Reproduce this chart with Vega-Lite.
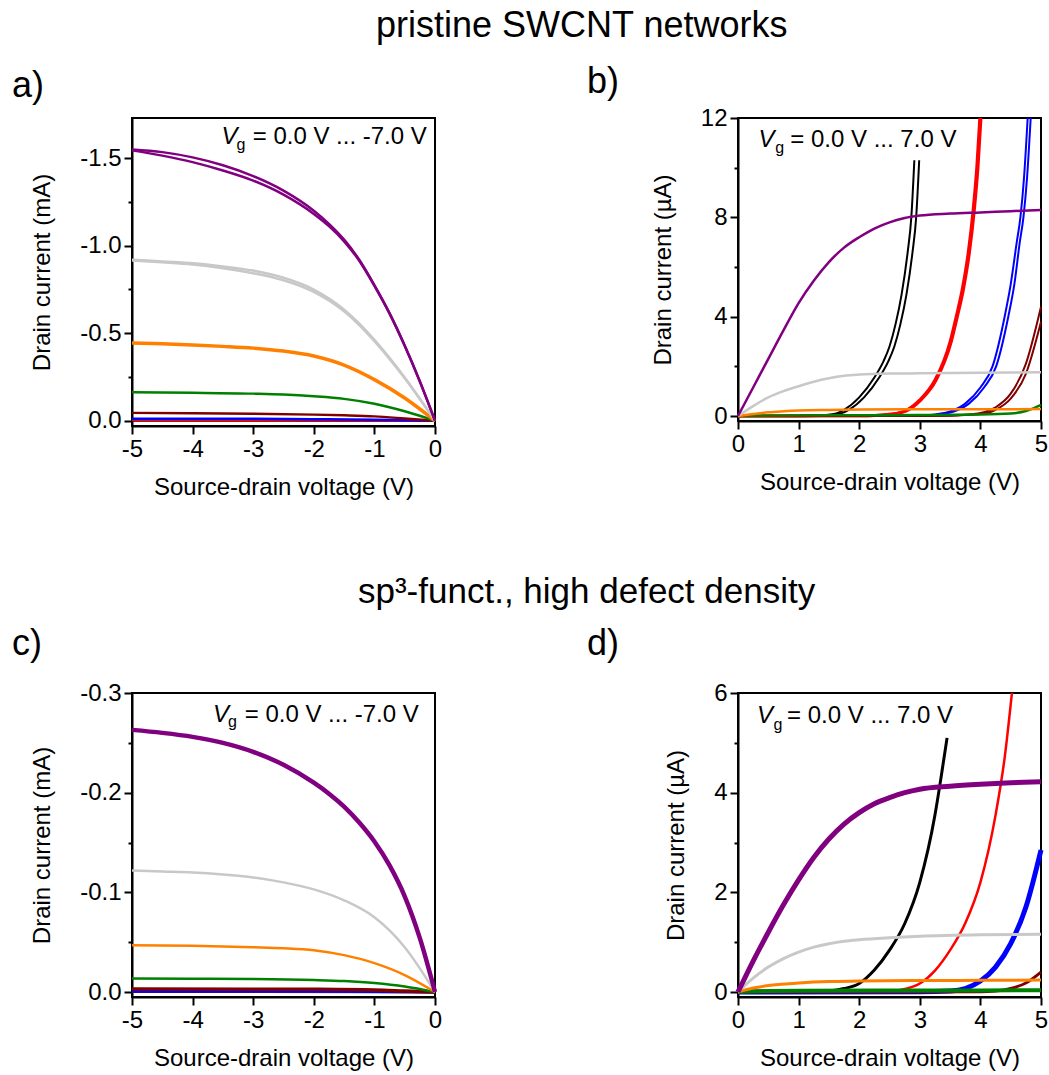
{
  "$schema": "https://vega.github.io/schema/vega-lite/v6.json",
  "padding": {"left": 11, "top": 8, "right": 0, "bottom": 0},
  "background": "white",
  "config": {
    "font": "Liberation Sans",
    "view": {"stroke": "black", "strokeWidth": 2},
    "axis": {"grid": false, "domainColor": "black", "domainWidth": 2, "tickColor": "black", "tickWidth": 2, "labelFontSize": 24, "titleFontSize": 24, "titleFontWeight": "normal", "labelColor": "black", "titleColor": "black", "labelFont": "Liberation Sans", "titleFont": "Liberation Sans", "labelPadding": 3, "labelOverlap": false, "labelFlush": false, "labelBound": false},
    "axisX": {"titlePadding": 14},
    "axisY": {"titlePadding": 25},
    "title": {"font": "Liberation Sans", "fontWeight": "normal", "color": "black"},
    "text": {"font": "Liberation Sans", "fontSize": 24, "color": "black"}
  },
  "resolve": {"scale": {"strokeWidth": "independent", "color": "independent"}},
  "datasets": {
    "a": [
      {"x": -5, "y": -0.001, "g": "0"}, {"x": -2.5, "y": -0.001, "g": "0"}, {"x": 0, "y": 0, "g": "0"},
      {"x": -5, "y": -0.004, "g": "1"}, {"x": -3, "y": -0.0035, "g": "1"}, {"x": -1, "y": -0.002, "g": "1"}, {"x": 0, "y": 0, "g": "1"},
      {"x": -5, "y": -0.012, "g": "2"}, {"x": -4, "y": -0.0115, "g": "2"}, {"x": -3, "y": -0.011, "g": "2"}, {"x": -2, "y": -0.009, "g": "2"}, {"x": -1, "y": -0.006, "g": "2"}, {"x": -0.5, "y": -0.003, "g": "2"}, {"x": 0, "y": 0, "g": "2"},
      {"x": -5, "y": -0.045, "g": "3"}, {"x": -4, "y": -0.043, "g": "3"}, {"x": -3, "y": -0.04, "g": "3"}, {"x": -2, "y": -0.035, "g": "3"}, {"x": -1.5, "y": -0.031, "g": "3"}, {"x": -1, "y": -0.025, "g": "3"}, {"x": -0.5, "y": -0.013, "g": "3"}, {"x": 0, "y": 0, "g": "3"},
      {"x": -5, "y": -0.163, "g": "4"}, {"x": -4, "y": -0.16, "g": "4"}, {"x": -3, "y": -0.155, "g": "4"}, {"x": -2.5, "y": -0.15, "g": "4"}, {"x": -2, "y": -0.14, "g": "4"}, {"x": -1.5, "y": -0.125, "g": "4"}, {"x": -1, "y": -0.097, "g": "4"}, {"x": -0.5, "y": -0.054, "g": "4"}, {"x": 0, "y": 0, "g": "4"},
      {"x": -5, "y": -0.445, "g": "5"}, {"x": -4.5, "y": -0.44, "g": "5"}, {"x": -4, "y": -0.433, "g": "5"}, {"x": -3.5, "y": -0.425, "g": "5"}, {"x": -3, "y": -0.415, "g": "5"}, {"x": -2.5, "y": -0.398, "g": "5"}, {"x": -2, "y": -0.37, "g": "5"}, {"x": -1.5, "y": -0.318, "g": "5"}, {"x": -1, "y": -0.235, "g": "5"}, {"x": -0.5, "y": -0.13, "g": "5"}, {"x": 0, "y": 0, "g": "5"},
      {"x": -5, "y": -0.92, "g": "6", "s": "f"}, {"x": -4.5, "y": -0.91, "g": "6", "s": "f"}, {"x": -4, "y": -0.9, "g": "6", "s": "f"}, {"x": -3.5, "y": -0.882, "g": "6", "s": "f"}, {"x": -3, "y": -0.858, "g": "6", "s": "f"}, {"x": -2.5, "y": -0.818, "g": "6", "s": "f"}, {"x": -2.25, "y": -0.788, "g": "6", "s": "f"}, {"x": -2, "y": -0.75, "g": "6", "s": "f"}, {"x": -1.75, "y": -0.698, "g": "6", "s": "f"}, {"x": -1.5, "y": -0.635, "g": "6", "s": "f"}, {"x": -1.25, "y": -0.555, "g": "6", "s": "f"}, {"x": -1, "y": -0.462, "g": "6", "s": "f"}, {"x": -0.5, "y": -0.247, "g": "6", "s": "f"}, {"x": 0, "y": 0, "g": "6", "s": "f"},
      {"x": -5, "y": -0.915, "g": "6", "s": "r"}, {"x": -4.5, "y": -0.905, "g": "6", "s": "r"}, {"x": -4, "y": -0.893, "g": "6", "s": "r"}, {"x": -3.5, "y": -0.872, "g": "6", "s": "r"}, {"x": -3, "y": -0.843, "g": "6", "s": "r"}, {"x": -2.5, "y": -0.803, "g": "6", "s": "r"}, {"x": -2.25, "y": -0.774, "g": "6", "s": "r"}, {"x": -2, "y": -0.737, "g": "6", "s": "r"}, {"x": -1.75, "y": -0.687, "g": "6", "s": "r"}, {"x": -1.5, "y": -0.625, "g": "6", "s": "r"}, {"x": -1.25, "y": -0.547, "g": "6", "s": "r"}, {"x": -1, "y": -0.455, "g": "6", "s": "r"}, {"x": -0.5, "y": -0.243, "g": "6", "s": "r"}, {"x": 0, "y": 0, "g": "6", "s": "r"},
      {"x": -5, "y": -1.55, "g": "7", "s": "f"}, {"x": -4.5, "y": -1.535, "g": "7", "s": "f"}, {"x": -4, "y": -1.505, "g": "7", "s": "f"}, {"x": -3.5, "y": -1.46, "g": "7", "s": "f"}, {"x": -3, "y": -1.398, "g": "7", "s": "f"}, {"x": -2.5, "y": -1.315, "g": "7", "s": "f"}, {"x": -2, "y": -1.2, "g": "7", "s": "f"}, {"x": -1.75, "y": -1.125, "g": "7", "s": "f"}, {"x": -1.5, "y": -1.035, "g": "7", "s": "f"}, {"x": -1.25, "y": -0.92, "g": "7", "s": "f"}, {"x": -1, "y": -0.775, "g": "7", "s": "f"}, {"x": -0.75, "y": -0.615, "g": "7", "s": "f"}, {"x": -0.5, "y": -0.43, "g": "7", "s": "f"}, {"x": -0.25, "y": -0.225, "g": "7", "s": "f"}, {"x": 0, "y": 0, "g": "7", "s": "f"},
      {"x": -5, "y": -1.545, "g": "7", "s": "r"}, {"x": -4.5, "y": -1.515, "g": "7", "s": "r"}, {"x": -4, "y": -1.478, "g": "7", "s": "r"}, {"x": -3.5, "y": -1.43, "g": "7", "s": "r"}, {"x": -3, "y": -1.372, "g": "7", "s": "r"}, {"x": -2.5, "y": -1.292, "g": "7", "s": "r"}, {"x": -2, "y": -1.182, "g": "7", "s": "r"}, {"x": -1.75, "y": -1.112, "g": "7", "s": "r"}, {"x": -1.5, "y": -1.025, "g": "7", "s": "r"}, {"x": -1.25, "y": -0.914, "g": "7", "s": "r"}, {"x": -1, "y": -0.771, "g": "7", "s": "r"}, {"x": -0.75, "y": -0.612, "g": "7", "s": "r"}, {"x": -0.5, "y": -0.428, "g": "7", "s": "r"}, {"x": -0.25, "y": -0.224, "g": "7", "s": "r"}, {"x": 0, "y": 0, "g": "7", "s": "r"}
    ],
    "b": [
      {"x": 0, "y": 0, "g": "0", "s": "f"}, {"x": 1, "y": 0.01, "g": "0", "s": "f"}, {"x": 1.5, "y": 0.05, "g": "0", "s": "f"}, {"x": 1.75, "y": 0.25, "g": "0", "s": "f"}, {"x": 2, "y": 0.75, "g": "0", "s": "f"}, {"x": 2.25, "y": 1.55, "g": "0", "s": "f"}, {"x": 2.4, "y": 2.2, "g": "0", "s": "f"}, {"x": 2.5, "y": 2.8, "g": "0", "s": "f"}, {"x": 2.6, "y": 3.7, "g": "0", "s": "f"}, {"x": 2.7, "y": 4.9, "g": "0", "s": "f"}, {"x": 2.8, "y": 6.6, "g": "0", "s": "f"}, {"x": 2.86, "y": 8.0, "g": "0", "s": "f"}, {"x": 2.91, "y": 10.3, "g": "0", "s": "f"},
      {"x": 0, "y": 0, "g": "0", "s": "r"}, {"x": 1, "y": 0.01, "g": "0", "s": "r"}, {"x": 1.58, "y": 0.05, "g": "0", "s": "r"}, {"x": 1.83, "y": 0.25, "g": "0", "s": "r"}, {"x": 2.08, "y": 0.75, "g": "0", "s": "r"}, {"x": 2.33, "y": 1.55, "g": "0", "s": "r"}, {"x": 2.48, "y": 2.2, "g": "0", "s": "r"}, {"x": 2.58, "y": 2.8, "g": "0", "s": "r"}, {"x": 2.68, "y": 3.7, "g": "0", "s": "r"}, {"x": 2.78, "y": 4.9, "g": "0", "s": "r"}, {"x": 2.88, "y": 6.6, "g": "0", "s": "r"}, {"x": 2.94, "y": 8.0, "g": "0", "s": "r"}, {"x": 2.99, "y": 10.3, "g": "0", "s": "r"},
      {"x": 0, "y": 0, "g": "1", "s": "f"}, {"x": 1, "y": 0.005, "g": "1", "s": "f"}, {"x": 2, "y": 0.01, "g": "1", "s": "f"}, {"x": 2.25, "y": 0.02, "g": "1", "s": "f"}, {"x": 2.5, "y": 0.07, "g": "1", "s": "f"}, {"x": 2.75, "y": 0.2, "g": "1", "s": "f"}, {"x": 3, "y": 0.65, "g": "1", "s": "f"}, {"x": 3.25, "y": 1.45, "g": "1", "s": "f"}, {"x": 3.5, "y": 3.0, "g": "1", "s": "f"}, {"x": 3.6, "y": 4.0, "g": "1", "s": "f"}, {"x": 3.7, "y": 5.1, "g": "1", "s": "f"}, {"x": 3.8, "y": 6.6, "g": "1", "s": "f"}, {"x": 3.88, "y": 8.3, "g": "1", "s": "f"}, {"x": 3.94, "y": 10, "g": "1", "s": "f"}, {"x": 3.99, "y": 12, "g": "1", "s": "f"},
      {"x": 0, "y": 0, "g": "1", "s": "r"}, {"x": 1, "y": 0.005, "g": "1", "s": "r"}, {"x": 2, "y": 0.01, "g": "1", "s": "r"}, {"x": 2.27, "y": 0.02, "g": "1", "s": "r"}, {"x": 2.52, "y": 0.07, "g": "1", "s": "r"}, {"x": 2.77, "y": 0.2, "g": "1", "s": "r"}, {"x": 3.02, "y": 0.65, "g": "1", "s": "r"}, {"x": 3.27, "y": 1.45, "g": "1", "s": "r"}, {"x": 3.52, "y": 3.0, "g": "1", "s": "r"}, {"x": 3.62, "y": 4.0, "g": "1", "s": "r"}, {"x": 3.72, "y": 5.1, "g": "1", "s": "r"}, {"x": 3.82, "y": 6.6, "g": "1", "s": "r"}, {"x": 3.9, "y": 8.3, "g": "1", "s": "r"}, {"x": 3.96, "y": 10, "g": "1", "s": "r"}, {"x": 4.01, "y": 12, "g": "1", "s": "r"},
      {"x": 0, "y": 0, "g": "2", "s": "f"}, {"x": 2, "y": 0.005, "g": "2", "s": "f"}, {"x": 3, "y": 0.02, "g": "2", "s": "f"}, {"x": 3.25, "y": 0.06, "g": "2", "s": "f"}, {"x": 3.5, "y": 0.18, "g": "2", "s": "f"}, {"x": 3.75, "y": 0.5, "g": "2", "s": "f"}, {"x": 4, "y": 1.15, "g": "2", "s": "f"}, {"x": 4.2, "y": 2.0, "g": "2", "s": "f"}, {"x": 4.4, "y": 4.0, "g": "2", "s": "f"}, {"x": 4.5, "y": 5.3, "g": "2", "s": "f"}, {"x": 4.6, "y": 7.0, "g": "2", "s": "f"}, {"x": 4.66, "y": 8.0, "g": "2", "s": "f"}, {"x": 4.72, "y": 9.6, "g": "2", "s": "f"}, {"x": 4.78, "y": 12, "g": "2", "s": "f"},
      {"x": 0, "y": 0, "g": "2", "s": "r"}, {"x": 2, "y": 0.005, "g": "2", "s": "r"}, {"x": 3.06, "y": 0.02, "g": "2", "s": "r"}, {"x": 3.31, "y": 0.06, "g": "2", "s": "r"}, {"x": 3.56, "y": 0.18, "g": "2", "s": "r"}, {"x": 3.81, "y": 0.5, "g": "2", "s": "r"}, {"x": 4.06, "y": 1.15, "g": "2", "s": "r"}, {"x": 4.26, "y": 2.0, "g": "2", "s": "r"}, {"x": 4.46, "y": 4.0, "g": "2", "s": "r"}, {"x": 4.56, "y": 5.3, "g": "2", "s": "r"}, {"x": 4.65, "y": 7.0, "g": "2", "s": "r"}, {"x": 4.71, "y": 8.0, "g": "2", "s": "r"}, {"x": 4.77, "y": 9.6, "g": "2", "s": "r"}, {"x": 4.83, "y": 12, "g": "2", "s": "r"},
      {"x": 0, "y": 0, "g": "3", "s": "f"}, {"x": 3, "y": 0.005, "g": "3", "s": "f"}, {"x": 3.5, "y": 0.02, "g": "3", "s": "f"}, {"x": 3.75, "y": 0.05, "g": "3", "s": "f"}, {"x": 4, "y": 0.12, "g": "3", "s": "f"}, {"x": 4.25, "y": 0.35, "g": "3", "s": "f"}, {"x": 4.5, "y": 0.9, "g": "3", "s": "f"}, {"x": 4.75, "y": 2.1, "g": "3", "s": "f"}, {"x": 5, "y": 4.4, "g": "3", "s": "f"},
      {"x": 0, "y": 0, "g": "3", "s": "r"}, {"x": 3, "y": 0.005, "g": "3", "s": "r"}, {"x": 3.5, "y": 0.015, "g": "3", "s": "r"}, {"x": 3.75, "y": 0.04, "g": "3", "s": "r"}, {"x": 4, "y": 0.08, "g": "3", "s": "r"}, {"x": 4.25, "y": 0.25, "g": "3", "s": "r"}, {"x": 4.5, "y": 0.7, "g": "3", "s": "r"}, {"x": 4.75, "y": 1.7, "g": "3", "s": "r"}, {"x": 5, "y": 3.8, "g": "3", "s": "r"},
      {"x": 0, "y": 0, "g": "4"}, {"x": 1, "y": 0.02, "g": "4"}, {"x": 2, "y": 0.03, "g": "4"}, {"x": 3, "y": 0.04, "g": "4"}, {"x": 4, "y": 0.06, "g": "4"}, {"x": 4.5, "y": 0.1, "g": "4"}, {"x": 4.75, "y": 0.2, "g": "4"}, {"x": 5, "y": 0.45, "g": "4"},
      {"x": 0, "y": 0, "g": "5"}, {"x": 0.25, "y": 0.08, "g": "5"}, {"x": 0.5, "y": 0.15, "g": "5"}, {"x": 0.75, "y": 0.19, "g": "5"}, {"x": 1, "y": 0.22, "g": "5"}, {"x": 1.5, "y": 0.245, "g": "5"}, {"x": 2, "y": 0.26, "g": "5"}, {"x": 3, "y": 0.27, "g": "5"}, {"x": 4, "y": 0.275, "g": "5"}, {"x": 5, "y": 0.28, "g": "5"},
      {"x": 0, "y": 0, "g": "6"}, {"x": 0.25, "y": 0.4, "g": "6"}, {"x": 0.5, "y": 0.75, "g": "6"}, {"x": 0.75, "y": 1.0, "g": "6"}, {"x": 1, "y": 1.2, "g": "6"}, {"x": 1.25, "y": 1.38, "g": "6"}, {"x": 1.5, "y": 1.52, "g": "6"}, {"x": 1.75, "y": 1.62, "g": "6"}, {"x": 2, "y": 1.67, "g": "6"}, {"x": 2.5, "y": 1.71, "g": "6"}, {"x": 3, "y": 1.72, "g": "6"}, {"x": 4, "y": 1.74, "g": "6"}, {"x": 5, "y": 1.76, "g": "6"},
      {"x": 0, "y": 0, "g": "7"}, {"x": 0.25, "y": 1.15, "g": "7"}, {"x": 0.5, "y": 2.3, "g": "7"}, {"x": 0.75, "y": 3.45, "g": "7"}, {"x": 1, "y": 4.55, "g": "7"}, {"x": 1.25, "y": 5.45, "g": "7"}, {"x": 1.5, "y": 6.2, "g": "7"}, {"x": 1.75, "y": 6.78, "g": "7"}, {"x": 2, "y": 7.2, "g": "7"}, {"x": 2.25, "y": 7.55, "g": "7"}, {"x": 2.5, "y": 7.8, "g": "7"}, {"x": 2.75, "y": 7.97, "g": "7"}, {"x": 3, "y": 8.07, "g": "7"}, {"x": 3.5, "y": 8.15, "g": "7"}, {"x": 4, "y": 8.2, "g": "7"}, {"x": 4.5, "y": 8.25, "g": "7"}, {"x": 5, "y": 8.3, "g": "7"}
    ],
    "c": [
      {"x": -5, "y": -0.0003, "g": "0"}, {"x": 0, "y": 0, "g": "0"},
      {"x": -5, "y": -0.0008, "g": "1"}, {"x": 0, "y": 0, "g": "1"},
      {"x": -5, "y": -0.0008, "g": "2"}, {"x": -2, "y": -0.0007, "g": "2"}, {"x": -1, "y": -0.0005, "g": "2"}, {"x": 0, "y": 0, "g": "2"},
      {"x": -5, "y": -0.003, "g": "3"}, {"x": -3, "y": -0.0029, "g": "3"}, {"x": -2, "y": -0.0027, "g": "3"}, {"x": -1, "y": -0.002, "g": "3"}, {"x": -0.5, "y": -0.001, "g": "3"}, {"x": 0, "y": 0, "g": "3"},
      {"x": -5, "y": -0.0135, "g": "4"}, {"x": -4, "y": -0.0133, "g": "4"}, {"x": -3, "y": -0.013, "g": "4"}, {"x": -2, "y": -0.012, "g": "4"}, {"x": -1.5, "y": -0.011, "g": "4"}, {"x": -1, "y": -0.009, "g": "4"}, {"x": -0.5, "y": -0.0055, "g": "4"}, {"x": 0, "y": 0, "g": "4"},
      {"x": -5, "y": -0.047, "g": "5"}, {"x": -4, "y": -0.0465, "g": "5"}, {"x": -3, "y": -0.045, "g": "5"}, {"x": -2.5, "y": -0.044, "g": "5"}, {"x": -2, "y": -0.042, "g": "5"}, {"x": -1.5, "y": -0.037, "g": "5"}, {"x": -1, "y": -0.029, "g": "5"}, {"x": -0.5, "y": -0.017, "g": "5"}, {"x": 0, "y": 0, "g": "5"},
      {"x": -5, "y": -0.122, "g": "6"}, {"x": -4.5, "y": -0.121, "g": "6"}, {"x": -4, "y": -0.12, "g": "6"}, {"x": -3.5, "y": -0.118, "g": "6"}, {"x": -3, "y": -0.115, "g": "6"}, {"x": -2.5, "y": -0.11, "g": "6"}, {"x": -2, "y": -0.103, "g": "6"}, {"x": -1.5, "y": -0.092, "g": "6"}, {"x": -1, "y": -0.075, "g": "6"}, {"x": -0.5, "y": -0.045, "g": "6"}, {"x": 0, "y": 0, "g": "6"},
      {"x": -5, "y": -0.263, "g": "7"}, {"x": -4.5, "y": -0.26, "g": "7"}, {"x": -4, "y": -0.256, "g": "7"}, {"x": -3.5, "y": -0.25, "g": "7"}, {"x": -3, "y": -0.241, "g": "7"}, {"x": -2.5, "y": -0.228, "g": "7"}, {"x": -2, "y": -0.21, "g": "7"}, {"x": -1.75, "y": -0.199, "g": "7"}, {"x": -1.5, "y": -0.186, "g": "7"}, {"x": -1.25, "y": -0.17, "g": "7"}, {"x": -1, "y": -0.151, "g": "7"}, {"x": -0.75, "y": -0.127, "g": "7"}, {"x": -0.5, "y": -0.096, "g": "7"}, {"x": -0.25, "y": -0.054, "g": "7"}, {"x": 0, "y": 0, "g": "7"}
    ],
    "d": [
      {"x": 0, "y": 0, "g": "0"}, {"x": 1, "y": 0.003, "g": "0"}, {"x": 1.25, "y": 0.005, "g": "0"}, {"x": 1.5, "y": 0.02, "g": "0"}, {"x": 1.75, "y": 0.07, "g": "0"}, {"x": 2, "y": 0.17, "g": "0"}, {"x": 2.25, "y": 0.44, "g": "0"}, {"x": 2.5, "y": 0.84, "g": "0"}, {"x": 2.75, "y": 1.37, "g": "0"}, {"x": 3, "y": 2.2, "g": "0"}, {"x": 3.25, "y": 3.55, "g": "0"}, {"x": 3.35, "y": 4.3, "g": "0"}, {"x": 3.45, "y": 5.1, "g": "0"},
      {"x": 0, "y": 0, "g": "1"}, {"x": 2, "y": 0.003, "g": "1"}, {"x": 2.5, "y": 0.01, "g": "1"}, {"x": 2.75, "y": 0.06, "g": "1"}, {"x": 3, "y": 0.17, "g": "1"}, {"x": 3.25, "y": 0.43, "g": "1"}, {"x": 3.5, "y": 0.84, "g": "1"}, {"x": 3.75, "y": 1.38, "g": "1"}, {"x": 4, "y": 2.2, "g": "1"}, {"x": 4.25, "y": 3.55, "g": "1"}, {"x": 4.4, "y": 4.7, "g": "1"}, {"x": 4.52, "y": 6.0, "g": "1"},
      {"x": 0, "y": 0, "g": "2"}, {"x": 3, "y": 0.005, "g": "2"}, {"x": 3.5, "y": 0.02, "g": "2"}, {"x": 3.75, "y": 0.07, "g": "2"}, {"x": 4, "y": 0.22, "g": "2"}, {"x": 4.25, "y": 0.5, "g": "2"}, {"x": 4.5, "y": 0.97, "g": "2"}, {"x": 4.75, "y": 1.7, "g": "2"}, {"x": 5, "y": 2.85, "g": "2"},
      {"x": 0, "y": 0, "g": "3"}, {"x": 4, "y": 0.005, "g": "3"}, {"x": 4.25, "y": 0.02, "g": "3"}, {"x": 4.5, "y": 0.07, "g": "3"}, {"x": 4.75, "y": 0.18, "g": "3"}, {"x": 5, "y": 0.4, "g": "3"},
      {"x": 0, "y": 0, "g": "4"}, {"x": 0.5, "y": 0.02, "g": "4"}, {"x": 1, "y": 0.025, "g": "4"}, {"x": 3, "y": 0.03, "g": "4"}, {"x": 5, "y": 0.035, "g": "4"},
      {"x": 0, "y": 0, "g": "5"}, {"x": 0.25, "y": 0.08, "g": "5"}, {"x": 0.5, "y": 0.13, "g": "5"}, {"x": 1, "y": 0.18, "g": "5"}, {"x": 1.5, "y": 0.21, "g": "5"}, {"x": 2, "y": 0.22, "g": "5"}, {"x": 3, "y": 0.23, "g": "5"}, {"x": 4, "y": 0.235, "g": "5"}, {"x": 5, "y": 0.24, "g": "5"},
      {"x": 0, "y": 0, "g": "6"}, {"x": 0.25, "y": 0.28, "g": "6"}, {"x": 0.5, "y": 0.5, "g": "6"}, {"x": 0.75, "y": 0.67, "g": "6"}, {"x": 1, "y": 0.8, "g": "6"}, {"x": 1.25, "y": 0.9, "g": "6"}, {"x": 1.5, "y": 0.97, "g": "6"}, {"x": 1.75, "y": 1.02, "g": "6"}, {"x": 2, "y": 1.05, "g": "6"}, {"x": 2.5, "y": 1.09, "g": "6"}, {"x": 3, "y": 1.12, "g": "6"}, {"x": 4, "y": 1.15, "g": "6"}, {"x": 5, "y": 1.16, "g": "6"},
      {"x": 0, "y": 0, "g": "7"}, {"x": 0.25, "y": 0.62, "g": "7"}, {"x": 0.5, "y": 1.2, "g": "7"}, {"x": 0.75, "y": 1.75, "g": "7"}, {"x": 1, "y": 2.25, "g": "7"}, {"x": 1.25, "y": 2.7, "g": "7"}, {"x": 1.5, "y": 3.07, "g": "7"}, {"x": 1.75, "y": 3.37, "g": "7"}, {"x": 2, "y": 3.6, "g": "7"}, {"x": 2.25, "y": 3.78, "g": "7"}, {"x": 2.5, "y": 3.9, "g": "7"}, {"x": 2.75, "y": 4.0, "g": "7"}, {"x": 3, "y": 4.07, "g": "7"}, {"x": 3.5, "y": 4.13, "g": "7"}, {"x": 4, "y": 4.17, "g": "7"}, {"x": 4.5, "y": 4.2, "g": "7"}, {"x": 5, "y": 4.22, "g": "7"}
    ]
  },
  "vconcat": [
    {
      "title": {"text": "pristine SWCNT networks", "fontSize": 36, "anchor": "start", "frame": "group", "dx": 244, "offset": 18},
      "bounds": "flush",
      "spacing": 303,
      "resolve": {"scale": {"strokeWidth": "independent", "color": "independent"}},
      "hconcat": [
        {
          "width": 303, "height": 308,
          "title": {"text": "a)", "anchor": "start", "frame": "group", "dx": -120, "offset": -15, "fontSize": 36, "baseline": "alphabetic"},
          "layer": [
            {
              "data": {"name": "a"},
              "mark": {"type": "line", "interpolate": "monotone"},
              "encoding": {
                "x": {"field": "x", "type": "quantitative", "scale": {"domain": [-5, 0], "nice": false, "zero": false},
                  "axis": {"title": "Source-drain voltage (V)", "values": [-5, -4.5, -4, -3.5, -3, -2.5, -2, -1.5, -1, -0.5, 0], "labelExpr": "datum.value % 1 != 0 ? '' : replace(format(datum.value, 'd'), '\u2212', '-')", "tickSize": {"condition": {"test": "datum.value % 1 != 0", "value": 4}, "value": 8}}},
                "y": {"field": "y", "type": "quantitative", "scale": {"domain": [0.03, -1.73], "nice": false, "zero": false},
                  "axis": {"title": "Drain current (mA)", "values": [0, -0.25, -0.5, -0.75, -1, -1.25, -1.5], "labelExpr": "abs(datum.value*4) % 2 == 1 ? '' : replace(format(datum.value, '.1f'), '\u2212', '-')", "tickSize": {"condition": {"test": "abs(datum.value*4) % 2 == 1", "value": 4}, "value": 8}}},
                "color": {"field": "g", "type": "nominal", "legend": null, "scale": {"domain": ["0", "1", "2", "3", "4", "5", "6", "7"], "range": ["#000000", "#ff0000", "#0000ff", "#800000", "#008000", "#ff8000", "#c8c8c8", "#800080"]}},
                "strokeWidth": {"field": "g", "type": "nominal", "legend": null, "scale": {"type": "ordinal", "domain": ["0", "1", "2", "3", "4", "5", "6", "7"], "range": [2.5, 2.5, 2.5, 2.5, 2.5, 3.5, 2.5, 2.5]}},
                "detail": {"field": "s"}
              }
            },
            {"data": {"values": [{}]}, "mark": {"type": "text", "text": "V", "fontStyle": "italic", "align": "left", "baseline": "alphabetic", "fontSize": 24}, "encoding": {"x": {"datum": -3.525, "type": "quantitative"}, "y": {"datum": -1.581, "type": "quantitative"}}},
            {"data": {"values": [{}]}, "mark": {"type": "text", "text": "g", "align": "left", "baseline": "alphabetic", "fontSize": 16}, "encoding": {"x": {"datum": -3.277, "type": "quantitative"}, "y": {"datum": -1.55, "type": "quantitative"}}},
            {"data": {"values": [{}]}, "mark": {"type": "text", "text": "= 0.0 V ... -7.0 V", "align": "left", "baseline": "alphabetic", "fontSize": 24}, "encoding": {"x": {"datum": -3.008, "type": "quantitative"}, "y": {"datum": -1.581, "type": "quantitative"}}}
          ]
        },
        {
          "width": 303, "height": 303,
          "title": {"text": "b)", "anchor": "start", "frame": "group", "dx": -151, "offset": -23, "fontSize": 36, "baseline": "alphabetic"},
          "layer": [
            {
              "data": {"name": "b"},
              "mark": {"type": "line", "interpolate": "monotone"},
              "encoding": {
                "x": {"field": "x", "type": "quantitative", "scale": {"domain": [0, 5], "nice": false, "zero": false},
                  "axis": {"title": "Source-drain voltage (V)", "values": [0, 0.5, 1, 1.5, 2, 2.5, 3, 3.5, 4, 4.5, 5], "labelExpr": "datum.value % 1 != 0 ? '' : format(datum.value, 'd')", "tickSize": {"condition": {"test": "datum.value % 1 != 0", "value": 4}, "value": 8}}},
                "y": {"field": "y", "type": "quantitative", "scale": {"domain": [-0.2, 12], "nice": false, "zero": false},
                  "axis": {"title": "Drain current (µA)", "values": [0, 2, 4, 6, 8, 10, 12], "labelExpr": "datum.value % 4 != 0 ? '' : format(datum.value, 'd')", "tickSize": {"condition": {"test": "datum.value % 4 != 0", "value": 4}, "value": 8}}},
                "color": {"field": "g", "type": "nominal", "legend": null, "scale": {"domain": ["0", "1", "2", "3", "4", "5", "6", "7"], "range": ["#000000", "#ff0000", "#0000ff", "#800000", "#008000", "#ff8000", "#c8c8c8", "#800080"]}},
                "strokeWidth": {"field": "g", "type": "nominal", "legend": null, "scale": {"type": "ordinal", "domain": ["0", "1", "2", "3", "4", "5", "6", "7"], "range": [2, 3, 2, 2, 2.5, 2.5, 2.5, 2.5]}},
                "detail": {"field": "s"}
              }
            },
            {"data": {"values": [{}]}, "mark": {"type": "text", "text": "V", "fontStyle": "italic", "align": "left", "baseline": "alphabetic", "fontSize": 24}, "encoding": {"x": {"datum": 0.34, "type": "quantitative"}, "y": {"datum": 10.845, "type": "quantitative"}}},
            {"data": {"values": [{}]}, "mark": {"type": "text", "text": "g", "align": "left", "baseline": "alphabetic", "fontSize": 16}, "encoding": {"x": {"datum": 0.615, "type": "quantitative"}, "y": {"datum": 10.59, "type": "quantitative"}}},
            {"data": {"values": [{}]}, "mark": {"type": "text", "text": "= 0.0 V ... 7.0 V", "align": "left", "baseline": "alphabetic", "fontSize": 24}, "encoding": {"x": {"datum": 0.863, "type": "quantitative"}, "y": {"datum": 10.845, "type": "quantitative"}}}
          ]
        }
      ]
    },
    {
      "title": {"text": "sp³-funct., high defect density", "fontSize": 35, "anchor": "start", "frame": "group", "dx": 226, "offset": 15},
      "bounds": "flush",
      "spacing": 303,
      "resolve": {"scale": {"strokeWidth": "independent", "color": "independent"}},
      "hconcat": [
        {
          "width": 303, "height": 304,
          "title": {"text": "c)", "anchor": "start", "frame": "group", "dx": -120, "offset": -10, "fontSize": 36, "baseline": "alphabetic"},
          "layer": [
            {
              "data": {"name": "c"},
              "mark": {"type": "line", "interpolate": "monotone"},
              "encoding": {
                "x": {"field": "x", "type": "quantitative", "scale": {"domain": [-5, 0], "nice": false, "zero": false},
                  "axis": {"title": "Source-drain voltage (V)", "values": [-5, -4.5, -4, -3.5, -3, -2.5, -2, -1.5, -1, -0.5, 0], "labelExpr": "datum.value % 1 != 0 ? '' : replace(format(datum.value, 'd'), '\u2212', '-')", "tickSize": {"condition": {"test": "datum.value % 1 != 0", "value": 4}, "value": 8}}},
                "y": {"field": "y", "type": "quantitative", "scale": {"domain": [0.005, -0.3], "nice": false, "zero": false},
                  "axis": {"title": "Drain current (mA)", "values": [0, -0.05, -0.1, -0.15, -0.2, -0.25, -0.3], "labelExpr": "round(abs(datum.value)*100) % 10 == 5 ? '' : replace(format(datum.value, '.1f'), '\u2212', '-')", "tickSize": {"condition": {"test": "round(abs(datum.value)*100) % 10 == 5", "value": 4}, "value": 8}}},
                "color": {"field": "g", "type": "nominal", "legend": null, "scale": {"domain": ["0", "1", "2", "3", "4", "5", "6", "7"], "range": ["#000000", "#ff0000", "#0000ff", "#800000", "#008000", "#ff8000", "#c8c8c8", "#800080"]}},
                "strokeWidth": {"field": "g", "type": "nominal", "legend": null, "scale": {"type": "ordinal", "domain": ["0", "1", "2", "3", "4", "5", "6", "7"], "range": [2.5, 2.5, 3, 3.5, 2.5, 2.5, 2.5, 4.5]}},
                "detail": {"field": "s"}
              }
            },
            {"data": {"values": [{}]}, "mark": {"type": "text", "text": "V", "fontStyle": "italic", "align": "left", "baseline": "alphabetic", "fontSize": 24}, "encoding": {"x": {"datum": -3.663, "type": "quantitative"}, "y": {"datum": -0.2712, "type": "quantitative"}}},
            {"data": {"values": [{}]}, "mark": {"type": "text", "text": "g", "align": "left", "baseline": "alphabetic", "fontSize": 16}, "encoding": {"x": {"datum": -3.416, "type": "quantitative"}, "y": {"datum": -0.2656, "type": "quantitative"}}},
            {"data": {"values": [{}]}, "mark": {"type": "text", "text": "= 0.0 V ... -7.0 V", "align": "left", "baseline": "alphabetic", "fontSize": 24}, "encoding": {"x": {"datum": -3.14, "type": "quantitative"}, "y": {"datum": -0.2712, "type": "quantitative"}}}
          ]
        },
        {
          "width": 303, "height": 304,
          "title": {"text": "d)", "anchor": "start", "frame": "group", "dx": -151, "offset": -10, "fontSize": 36, "baseline": "alphabetic"},
          "layer": [
            {
              "data": {"name": "d"},
              "mark": {"type": "line", "interpolate": "monotone"},
              "encoding": {
                "x": {"field": "x", "type": "quantitative", "scale": {"domain": [0, 5], "nice": false, "zero": false},
                  "axis": {"title": "Source-drain voltage (V)", "values": [0, 0.5, 1, 1.5, 2, 2.5, 3, 3.5, 4, 4.5, 5], "labelExpr": "datum.value % 1 != 0 ? '' : format(datum.value, 'd')", "tickSize": {"condition": {"test": "datum.value % 1 != 0", "value": 4}, "value": 8}}},
                "y": {"field": "y", "type": "quantitative", "scale": {"domain": [-0.1, 6], "nice": false, "zero": false},
                  "axis": {"title": "Drain current (µA)", "values": [0, 1, 2, 3, 4, 5, 6], "labelExpr": "datum.value % 2 != 0 ? '' : format(datum.value, 'd')", "tickSize": {"condition": {"test": "datum.value % 2 != 0", "value": 4}, "value": 8}}},
                "color": {"field": "g", "type": "nominal", "legend": null, "scale": {"domain": ["0", "1", "2", "3", "4", "5", "6", "7"], "range": ["#000000", "#ff0000", "#0000ff", "#800000", "#008000", "#ff8000", "#c8c8c8", "#800080"]}},
                "strokeWidth": {"field": "g", "type": "nominal", "legend": null, "scale": {"type": "ordinal", "domain": ["0", "1", "2", "3", "4", "5", "6", "7"], "range": [3, 2.5, 5, 3, 4, 3, 3, 5]}},
                "detail": {"field": "s"}
              }
            },
            {"data": {"values": [{}]}, "mark": {"type": "text", "text": "V", "fontStyle": "italic", "align": "left", "baseline": "alphabetic", "fontSize": 24}, "encoding": {"x": {"datum": 0.3135, "type": "quantitative"}, "y": {"datum": 5.392, "type": "quantitative"}}},
            {"data": {"values": [{}]}, "mark": {"type": "text", "text": "g", "align": "left", "baseline": "alphabetic", "fontSize": 16}, "encoding": {"x": {"datum": 0.5875, "type": "quantitative"}, "y": {"datum": 5.258, "type": "quantitative"}}},
            {"data": {"values": [{}]}, "mark": {"type": "text", "text": "= 0.0 V ... 7.0 V", "align": "left", "baseline": "alphabetic", "fontSize": 24}, "encoding": {"x": {"datum": 0.8086, "type": "quantitative"}, "y": {"datum": 5.392, "type": "quantitative"}}}
          ]
        }
      ]
    }
  ],
  "spacing": 75
}
